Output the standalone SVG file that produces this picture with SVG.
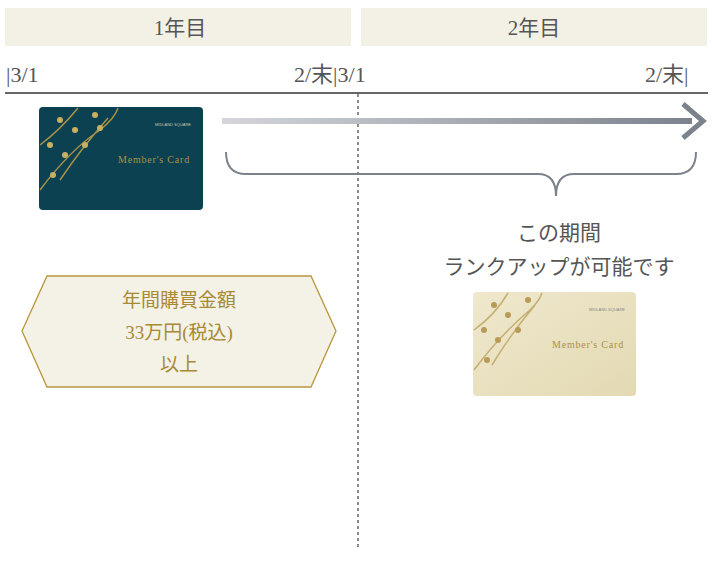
<svg xmlns="http://www.w3.org/2000/svg" width="715" height="565" viewBox="0 0 715 565">
<style>
.s{font-family:"Liberation Serif","Noto Sans CJK JP",serif;fill:#555}
.h{font-size:21px;text-anchor:middle}
.d{font-size:22px}
.g{font-family:"Liberation Serif","Noto Sans CJK JP",serif;fill:#a88a35;font-size:19px;text-anchor:middle}
.bar{fill:#f3f1e6}
</style>
<defs>
<linearGradient id="ag" x1="0" x2="1"><stop offset="0" stop-color="#d4d6dc"/><stop offset="1" stop-color="#7c828c"/></linearGradient>
<linearGradient id="cg" x1="0" y1="0" x2="1" y2="1"><stop offset="0" stop-color="#efe8cd"/><stop offset="1" stop-color="#e3d9b3"/></linearGradient>
</defs>
<g id="header">
<rect class="bar" x="5" y="8" width="346" height="38"/>
<rect class="bar" x="361" y="8" width="346" height="38"/>
<text class="s h" x="180" y="35">1年目</text>
<text class="s h" x="534" y="35">2年目</text>
<text class="s d" x="6" y="82">|3/1</text>
<text class="s d" x="294" y="82">2/末|3/1</text>
<text class="s d" x="645" y="82">2/末|</text>
</g>
<g id="connectors">
<line x1="5" y1="93" x2="708" y2="93" stroke="#666" stroke-width="2"/>
<line x1="358" y1="94" x2="358" y2="550" stroke="#666" stroke-width="1.5" stroke-dasharray="3,3"/>
<rect x="222" y="118" width="470" height="6" fill="url(#ag)"/>
<path d="M683 104 L703 121 L683 138" fill="none" stroke="#7c828c" stroke-width="5"/>
<path d="M226 152 Q226 174 246 174 L538 174 Q556 174 556 196 Q556 174 574 174 L676 174 Q696 174 696 152" fill="none" stroke="#7c828c" stroke-width="2"/>
</g>
<g id="card1">
<rect x="39" y="107" width="164" height="103" rx="4" fill="#0b4150"/>
<path d="M40 190 Q70 150 100 130 Q115 118 118 108 M40 145 Q60 130 78 108 M60 180 Q80 150 108 118" stroke="#a8924a" stroke-width="1.5" fill="none"/>
<g fill="#c9b060"><circle cx="60" cy="120" r="3"/><circle cx="75" cy="130" r="3"/><circle cx="50" cy="145" r="3"/><circle cx="85" cy="145" r="3"/><circle cx="65" cy="155" r="3"/><circle cx="95" cy="115" r="3"/><circle cx="53" cy="175" r="3"/><circle cx="100" cy="128" r="3"/></g>
<text x="173" y="126" font-family="Liberation Sans,sans-serif" font-size="4" fill="#c9c6b8" text-anchor="middle">MIDLAND SQUARE</text>
<text x="154" y="163" font-family="Liberation Serif,serif" font-size="10" fill="#a8924a" text-anchor="middle" letter-spacing="0.8">Member's Card</text>
</g>
<g id="card2">
<rect x="473" y="292" width="163" height="104" rx="4" fill="url(#cg)"/>
<path d="M474 370 Q500 335 530 310 Q540 300 542 293 M474 330 Q495 315 508 293 M492 365 Q510 335 535 305" stroke="#c4ae70" stroke-width="1.5" fill="none"/>
<g fill="#b89a55"><circle cx="494" cy="305" r="3"/><circle cx="508" cy="315" r="3"/><circle cx="484" cy="330" r="3"/><circle cx="518" cy="330" r="3"/><circle cx="498" cy="340" r="3"/><circle cx="528" cy="300" r="3"/><circle cx="487" cy="360" r="3"/></g>
<text x="607" y="311" font-family="Liberation Sans,sans-serif" font-size="4" fill="#888" text-anchor="middle">MIDLAND SQUARE</text>
<text x="588" y="348" font-family="Liberation Serif,serif" font-size="10" fill="#a8924a" text-anchor="middle" letter-spacing="0.8">Member's Card</text>
</g>
<g id="period">
<text class="s" x="559" y="240" font-size="21" text-anchor="middle">この期間</text>
<text class="s" x="559" y="274" font-size="21" text-anchor="middle">ランクアップが可能です</text>
</g>
<g id="condition">
<polygon points="22,331 47,276 311,276 336,331 311,387 47,387" fill="#f4f1e6" stroke="#b8963c" stroke-width="1.3"/>
<text class="g" x="179" y="307">年間購買金額</text>
<text class="g" x="179" y="339">33万円(税込)</text>
<text class="g" x="179" y="371">以上</text>
</g>
</svg>
